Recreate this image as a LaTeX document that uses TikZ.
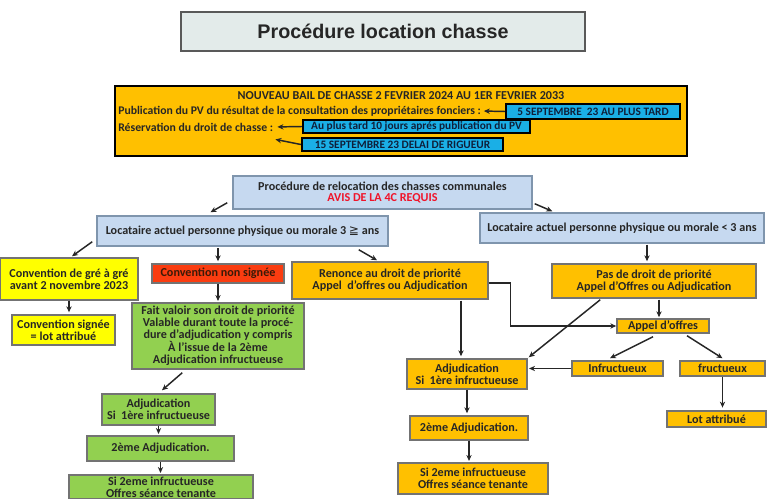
\documentclass[tikz,border=0pt]{standalone}
\usepackage{fontspec}
\setmainfont{Carlito}
\newfontfamily\titlefont{Liberation Sans}
\newfontfamily\symfont{DejaVu Sans}
\usetikzlibrary{arrows.meta}

\definecolor{gold}{HTML}{FFC000}
\definecolor{sky}{HTML}{1AAFE6}
\definecolor{paleblue}{HTML}{C6D9F0}
\definecolor{blueline}{HTML}{7F95AD}
\definecolor{leaf}{HTML}{92D050}
\definecolor{brick}{HTML}{FA3C10}
\definecolor{lemon}{HTML}{FFFF00}
\definecolor{mist}{HTML}{E3EBEA}
\definecolor{ink}{HTML}{262626}
\definecolor{navy}{HTML}{0F1F3A}
\definecolor{alert}{HTML}{F0142A}
\definecolor{umber}{HTML}{3A1A08}

\tikzset{
  sz/.style 2 args={minimum width=#1*0.75pt, minimum height=#2*0.75pt},
  box/.style={draw=black!55, line width=1.1pt, inner sep=0pt, align=center, text=ink,
              font=\bfseries\fontsize{9.1}{8.9}\selectfont},
  obox/.style={box, fill=gold},
  ybox/.style={box, fill=lemon},
  gbox/.style={box, fill=leaf},
  rbox/.style={box, fill=brick, text=umber},
  bbox/.style={box, fill=paleblue, draw=blueline},
  cbox/.style={box, fill=sky, draw=black, line width=1.6pt, text=navy,
               font=\bfseries\fontsize{8.5}{8.5}\selectfont},
  hdr/.style={inner sep=0pt, text=ink, font=\bfseries\fontsize{8.8}{9}\selectfont},
  titlebox/.style={draw=black!65, line width=1pt, fill=mist, text=ink,
                   font=\titlefont\bfseries\fontsize{14.8}{17}\selectfont},
  arr/.style={->, line width=1.1pt, draw=ink}
}

\begin{document}
\begin{tikzpicture}[x=0.75pt, y=-0.75pt, >={Stealth[length=4.5pt,width=4pt]}]
  \useasboundingbox (0,0) rectangle (769,499);
  \clip (0,0) rectangle (769,499);

  \node[titlebox, sz={404}{39}] (title) at (383,31.5) {Procédure location chasse};

  \node[draw=black, line width=1.6pt, fill=gold, sz={572}{70}] (bail) at (401,121) {};
  \node[hdr, font=\bfseries\fontsize{9.1}{9}\selectfont] (hdr) at (401,96) {NOUVEAU BAIL DE CHASSE 2 FEVRIER 2024 AU 1ER FEVRIER 2033};
  \node[hdr, anchor=west] (pub) at (118,111) {Publication du PV du résultat de la consultation des propriétaires fonciers :};
  \node[hdr, anchor=west] (res) at (118,127) {Réservation du droit de chasse :};
  \node[cbox, sz={174}{15}] (sept5) at (593,111.5) {5 SEPTEMBRE\ \ 23 AU PLUS TARD};
  \node[cbox, sz={227}{13}] (dix) at (416.5,126.5) {Au plus tard 10 jours aprés publication du PV};
  \node[cbox, sz={201}{13}] (sept15) at (402.5,144.5) {15 SEPTEMBRE 23 DELAI DE RIGUEUR};

  \node[bbox, sz={299}{33}] (proc) at (382.5,192.5) {Procédure de relocation des chasses communales\\\textcolor{alert}{AVIS DE LA 4C REQUIS}};
  \node[bbox, sz={291}{30}] (loc3) at (242.5,231) {Locataire actuel personne physique ou morale 3 {\symfont\mdseries ≧} ans};
  \node[bbox, sz={284}{30}] (locm) at (622,228) {Locataire actuel personne physique ou morale < 3 ans};

  \node[ybox, sz={138}{42}] (conv) at (69,279) {Convention de gré à gré\\avant 2 novembre 2023};
  \node[rbox, sz={132}{19}] (nonsig) at (218,273.5) {Convention non signée};
  \node[obox, sz={196}{37}] (renonce) at (390,280.5) {Renonce au droit de priorité\\Appel\ \ d’offres ou Adjudication};
  \node[obox, sz={204}{34}] (pasdroit) at (654,281) {Pas de droit de priorité\\Appel d’Offres ou Adjudication};

  \node[ybox, sz={103}{30}] (signee) at (63.5,330) {Convention signée\\= lot attribué};
  \node[gbox, sz={172}{66}] (fait) at (218,336) {Fait valoir son droit de priorité\\Valable durant toute la procé-\\dure d’adjudication y compris\\À l’issue de la 2ème\\Adjudication infructueuse};
  \node[gbox, sz={113}{31}] (gadj1) at (158.5,409.5) {Adjudication\\Si\ \ 1ère infructueuse};
  \node[gbox, sz={147}{25}] (gadj2) at (160.5,448.5) {2ème Adjudication.};
  \node[gbox, sz={184}{24}] (gsi2) at (161,487) {Si 2eme infructueuse\\Offres séance tenante};

  \node[obox, sz={92}{14}] (appel) at (663,326) {Appel d’offres};
  \node[obox, sz={120}{30}] (oadj1) at (467,374) {Adjudication\\Si\ \ 1ère infructueuse};
  \node[obox, sz={91}{15}] (infr) at (617.5,368.5) {Infructueux};
  \node[obox, sz={85}{15}] (fruct) at (722.5,368.5) {fructueux};
  \node[obox, sz={99}{16}] (lot) at (716.5,419) {Lot attribué};
  \node[obox, sz={118}{24}] (oadj2) at (469,428) {2ème Adjudication.};
  \node[obox, sz={150}{31}] (osi2) at (473,478.5) {Si 2eme infructueuse\\Offres séance tenante};

  \draw[arr, shorten >=2pt] (sept5.west) -- (pub.east);
  \draw[arr, shorten >=3pt] (dix.west) -- (res.east);
  \draw[arr] (sept15.west) -- ([shift={(2,8)}]res.south east);

  \draw[arr] ([shift={(-5,-7)}]proc.south west) -- ([shift={(-32,-3)}]loc3.north);
  \draw[arr] ([shift={(2,-6)}]proc.south east) -- ([shift={(73,-1)}]locm.north west);
  \draw[arr] ([shift={(-4,-5)}]loc3.south west) -- ([shift={(3,-1)}]conv.north);
  \draw[arr, shorten <=1pt, shorten >=1.5pt] (loc3.south -| nonsig.north) -- (nonsig.north);
  \draw[arr] ([shift={(-30,3)}]loc3.south east) -- ([shift={(-13,-1)}]renonce.north);
  \draw[arr] ([shift={(25,1)}]locm.south) -- ([shift={(-7,-2)}]pasdroit.north);

  \draw[arr, shorten >=1.5pt] (conv.south) -- (conv.south |- signee.north);
  \draw[arr, shorten >=1pt] (nonsig.south) -- (nonsig.south |- fait.north);
  \draw[arr] ([shift={(51,3)}]fait.south west) -- ([shift={(3.5,-3)}]gadj1.north);
  \draw[arr, shorten >=1pt] (gadj1.south) -- (gadj1.south |- gadj2.north);
  \draw[arr, shorten >=1pt] (gadj2.south) -- (gadj2.south |- gsi2.north);

  \draw[arr] ([shift={(71,1)}]renonce.south) -- ([shift={(-6,-2)}]oadj1.north);
  \draw[arr] ([yshift=-2]renonce.east) -- ++(22,0) |- (appel.west);
  \draw[arr] ([shift={(49,1)}]pasdroit.south west) -- ([shift={(1,-1)}]oadj1.north east);
  \draw[arr] ([shift={(5,1)}]pasdroit.south) -- ([shift={(-4,-1)}]appel.north);
  \draw[arr] ([shift={(-10,3)}]appel.south) -- ([shift={(-7.5,-2)}]infr.north);
  \draw[arr] ([shift={(24,2)}]appel.south) -- ([shift={(0,-2)}]fruct.north);
  \draw[arr, shorten >=1pt] (infr.west) -- (infr.west -| oadj1.east);
  \draw[arr, shorten >=2pt] (fruct.south) -- (fruct.south |- lot.north);
  \draw[arr, shorten >=1.5pt] (oadj1.south) -- (oadj1.south |- oadj2.north);
  \draw[arr, shorten >=1pt] (oadj2.south) -- (oadj2.south |- osi2.north);
\end{tikzpicture}
\end{document}
